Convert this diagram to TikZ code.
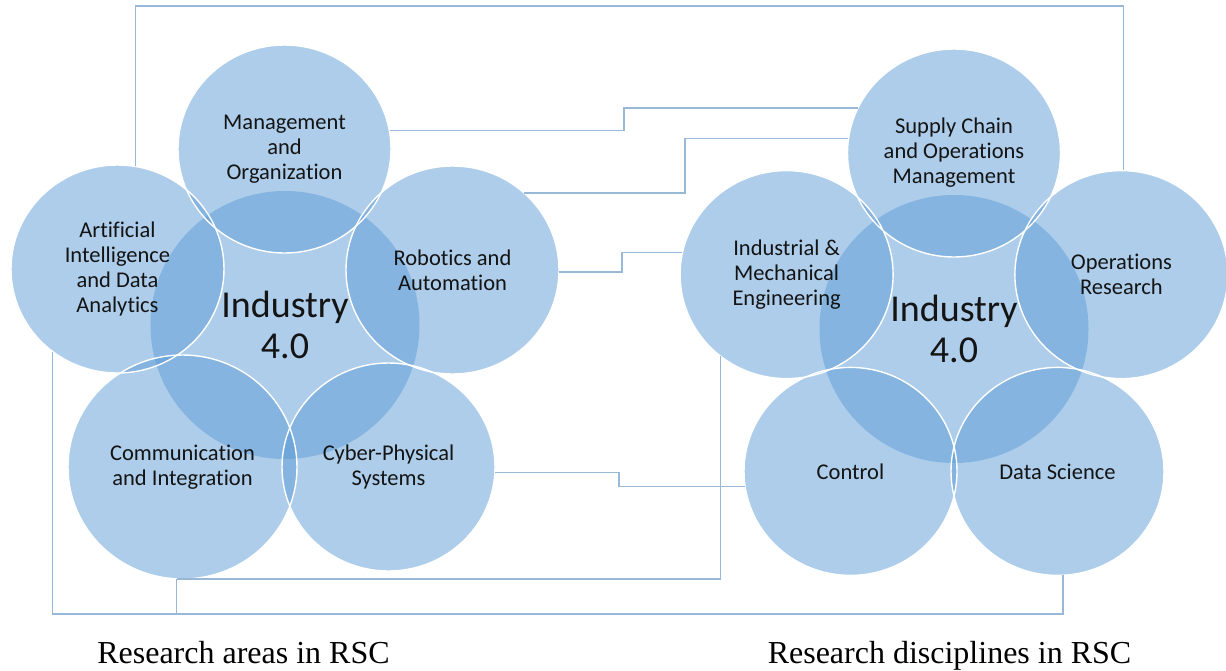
\documentclass[tikz,border=0pt]{standalone}
\usepackage{fontspec}
\setmainfont{Carlito}[Ligatures=NoCommon]
\newfontfamily\capfont{Liberation Serif}
\usetikzlibrary{shapes.geometric}
\definecolor{circ}{HTML}{5B9BD5}
\definecolor{wirecol}{HTML}{98B8D5}
\definecolor{txt}{HTML}{141414}
\begin{document}
\begin{tikzpicture}[x=1pt,y=-1pt,
  blob/.style={ellipse, minimum width=213pt, minimum height=208pt, inner sep=0pt,
    fill=circ, fill opacity=0.5, draw=none},
  hub/.style={blob, minimum width=269pt, minimum height=268pt},
  big/.style={minimum width=229pt, minimum height=224pt},
  ring/.style={ellipse, minimum width=213pt, minimum height=208pt, inner sep=0pt,
    draw=white, line width=1.4pt, fill=none},
  lab/.style={align=center, inner sep=0pt, text=txt, font=\fontsize{22.5}{25}\selectfont},
  hublab/.style={align=center, inner sep=0pt, text=txt, font=\fontsize{38}{41}\selectfont},
  captxt/.style={anchor=base, inner sep=0pt, text=black, font=\capfont\fontsize{32}{36}\selectfont},
  wireline/.style={draw=wirecol, line width=1.3pt}
]
\useasboundingbox (0,0) rectangle (1226,670);

% ---- circles (fills) ----
\node[hub]  (h1) at (285,325) {};
\node[blob] (mg) at (284.5,149) {};
\node[blob] (ai) at (117.5,269) {};
\node[blob] (rb) at (452.5,270) {};
\node[blob,big] (cm) at (182.5,467) {};
\node[blob] (cp) at (388.5,467) {};

\node[hub]  (h2) at (954,329) {};
\node[blob] (sc) at (954,153) {};
\node[blob] (im) at (786.6,274.6) {};
\node[blob] (or) at (1121.4,274.6) {};
\node[blob] (ct) at (850.5,471.4) {};
\node[blob] (ds) at (1057.5,471.4) {};

% ---- white rims ----
\foreach \n in {mg,ai,rb,cp,sc,im,or,ct,ds} \node[ring] at (\n) {};
\node[ring,big] at (cm) {};

% ---- connectors ----
\coordinate (top) at (0,6);
\coordinate (bot) at (0,614);
\coordinate (k1) at (624,0);
\coordinate (k2) at (685,0);
\coordinate (k3) at (622,0);
\coordinate (k4) at (619,0);
\draw[wireline] (ai.80) -- (ai.80 |- top) -| (or.89);
\draw[wireline] (mg.10) -| (k1 |- sc.155) -- (sc.155);
\draw[wireline] (rb.47) -| (k2 |- sc.172) -- (sc.172);
\draw[wireline] (rb.-1) -| (k3 |- im.168) -- (im.168);
\draw[wireline] (cp.-3) -| (k4 |- ct.188) -- (ct.188);
\draw[wireline] (cm.267) -| (im.231);
\draw[wireline] (cm.267) -- (cm.267 |- bot);
\draw[wireline] (ai.232) -- (ai.232 |- bot) -| (ds.273);

% ---- texts ----
\node[hublab] (t1) at (h1) {Industry\\4.0};
\node[lab] (tmg) at (mg) {Management\\and\\Organization};
\node[lab] (tai) at (ai) {Artificial\\Intelligence\\and Data\\Analytics};
\node[lab] (trb) at (rb) {Robotics and\\Automation};
\node[lab] (tcm) at (cm) {Communication\\and Integration};
\node[lab] (tcp) at (cp) {Cyber-Physical\\Systems};

\node[hublab] (t2) at (h2) {Industry\\4.0};
\node[lab] (tsc) at (sc) {Supply Chain\\and Operations\\Management};
\node[lab] (tim) at (im) {Industrial \&\\Mechanical\\Engineering};
\node[lab] (tor) at (or) {Operations\\Research};
\node[lab] (tct) at (ct) {Control};
\node[lab] (tds) at (ds) {Data Science};

\node[captxt] (c1) at (243.5,663) {Research areas in RSC};
\node[captxt] (c2) at (949.5,663) {Research disciplines in RSC};
\end{tikzpicture}
\end{document}
